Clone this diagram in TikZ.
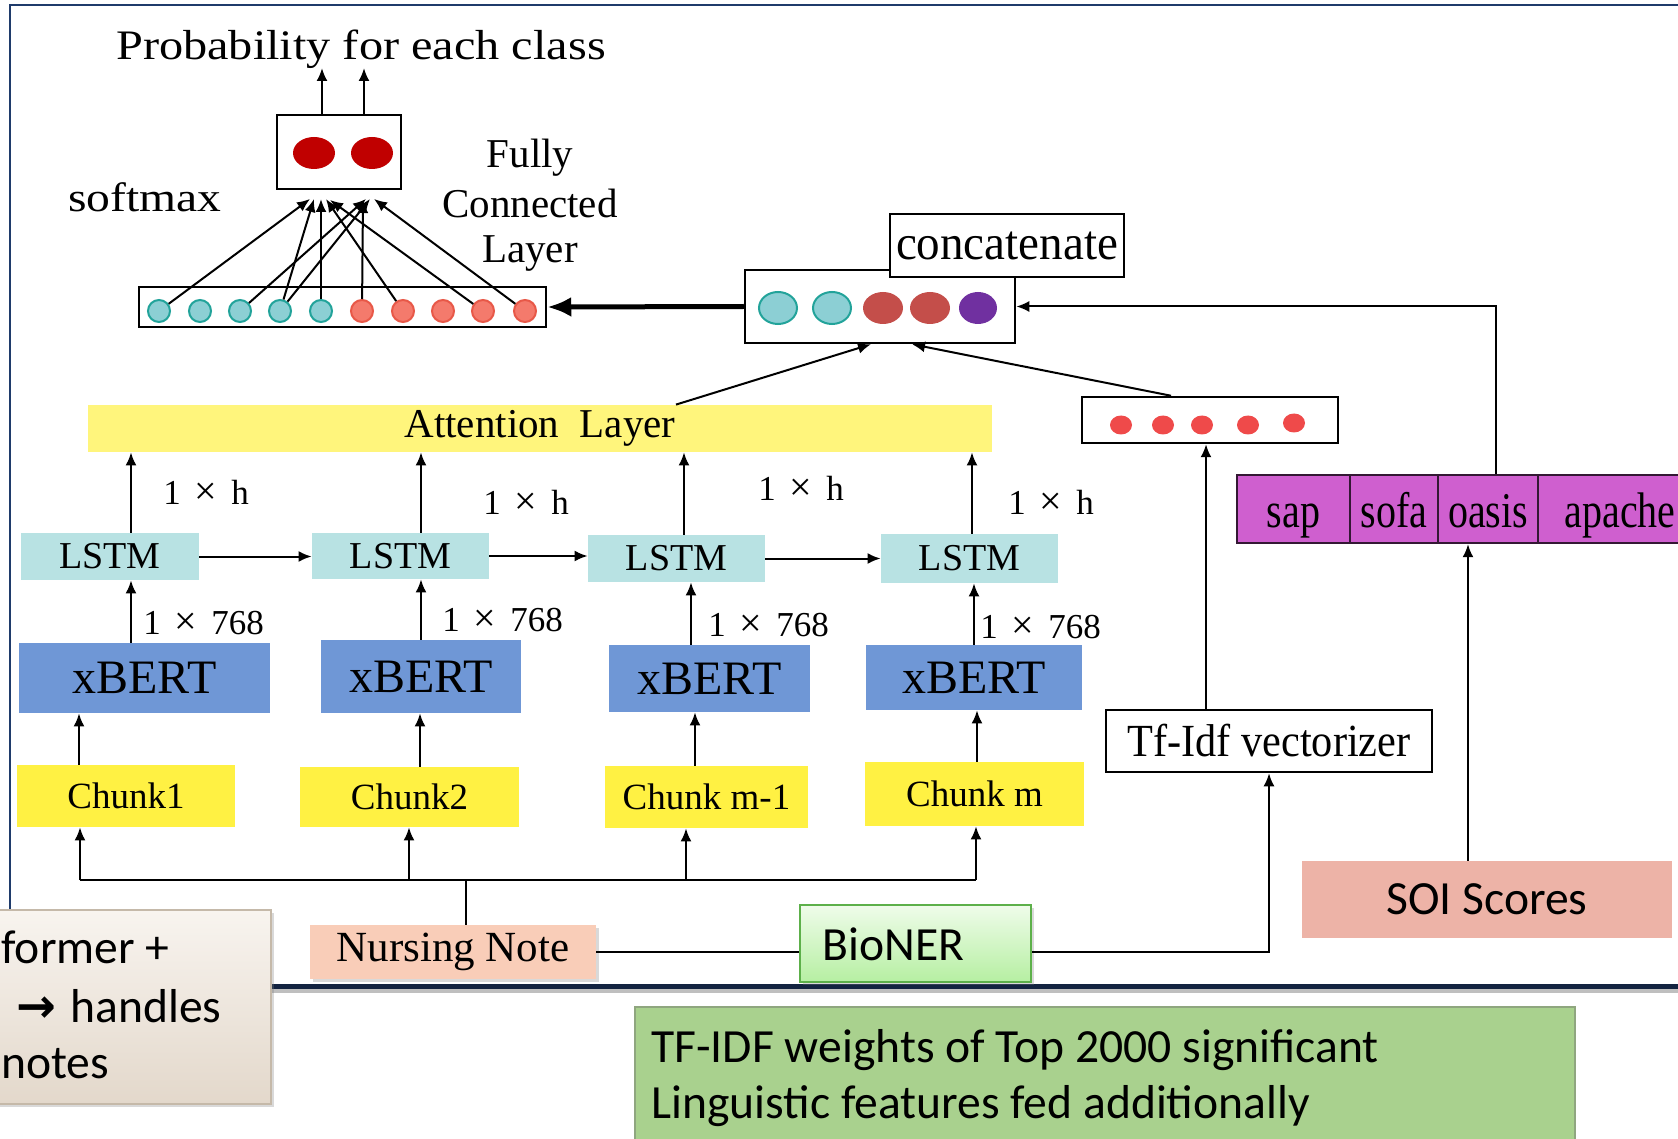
\documentclass[tikz,border=0pt]{standalone}
\usepackage{fontspec}
\usepackage{graphicx}
\setmainfont{Liberation Serif}
\newfontfamily\calfont{Carlito}
\newfontfamily\dvfont{DejaVu Sans}
\usetikzlibrary{arrows.meta,calc,shadows}

\newcommand\fsz[1]{\fontsize{#1pt}{#1pt}\selectfont}
\newcommand\hs[2]{\scalebox{#1}[1]{#2}}
\newcommand\dimby[2]{#1\hspace{.4em}{\fsz{20}×}\hspace{.4em}#2}

\definecolor{frameblue}{HTML}{1F3B6B}
\definecolor{tealfill}{HTML}{8CCFD4}
\definecolor{tealline}{HTML}{22A39A}
\definecolor{salfill}{HTML}{F47A6C}
\definecolor{salline}{HTML}{E85848}
\definecolor{catred}{HTML}{C44E4A}
\definecolor{catpurple}{HTML}{7030A0}
\definecolor{smred}{HTML}{C00000}
\definecolor{dotred}{HTML}{EF4A4A}
\definecolor{attyellow}{HTML}{FFF57C}
\definecolor{chunkyellow}{HTML}{FFF143}
\definecolor{bertblue}{HTML}{6F97D6}
\definecolor{lstmcyan}{HTML}{B8E2E3}
\definecolor{soimag}{HTML}{CF5FCF}
\definecolor{soipink}{HTML}{EDB3A7}
\definecolor{nnpeach}{HTML}{F9CDB8}
\definecolor{bioline}{HTML}{5DB04A}
\definecolor{biotop}{HTML}{EFFCEA}
\definecolor{biobot}{HTML}{B6EFA2}
\definecolor{noteg}{HTML}{A9D18E}
\definecolor{notegline}{HTML}{8FA67F}
\definecolor{tiptop}{HTML}{F8F4EF}
\definecolor{tipbot}{HTML}{E3D8CB}
\definecolor{tipline}{HTML}{C5B9A9}

\begin{document}
\begin{tikzpicture}[x=0.5pt,y=-0.5pt,
  wh/.style 2 args={minimum width=#1*0.5pt, minimum height=#2*0.5pt},
  wbox/.style={draw, line width=1.25pt, fill=white, inner sep=0pt},
  arr/.style={-{Latex[length=6.5pt,width=5.5pt]}, line width=1pt},
  bigarr/.style={-{Latex[length=12pt,width=10pt]}, line width=2.5pt},
  tealdot/.style={circle, draw=tealline, fill=tealfill, line width=1pt, minimum size=22*0.5pt, inner sep=0pt},
  saldot/.style={circle, draw=salline, fill=salfill, line width=1pt, minimum size=22*0.5pt, inner sep=0pt},
  chunk/.style={fill=chunkyellow, inner sep=0pt, font=\fsz{18.5}},
  bert/.style={fill=bertblue, inner sep=0pt, font=\fsz{24}},
  lstm/.style={fill=lstmcyan, inner sep=0pt, font=\fsz{19}},
  lab/.style={anchor=west, inner sep=0pt, font=\fsz{17.5}},
  soicell/.style={draw=black!75!soimag, fill=soimag, line width=1.2pt, inner sep=0pt,
    font=\fsz{25}, text height=19pt, text depth=0pt},
  caltext/.style={inner sep=0pt, font=\calfont\fsz{23.8}},
  shade/.style={drop shadow={shadow xshift=1.5pt, shadow yshift=-1.5pt, opacity=0.3}}
]
\useasboundingbox (0,0) rectangle (1678,1139);
\clip (0,0) rectangle (1678,1139);

% outer frame
\draw[frameblue, line width=1.1pt] (10,986) -- (10,5) -- (1700,5);
\draw[black!25, line width=2pt] (270,991) -- (1700,991);
\draw[frameblue!60!black, line width=2.5pt] (270,986) -- (1700,986);

% ---------- output layer ----------
\node[font=\fsz{21}, anchor=base, inner sep=0pt] (title) at (361,60) {\hs{1.15}{Probability for each class}};
\node[wbox, wh={124}{74}] (smx) at (339,152) {};
\fill[smred] (314,153) ellipse [x radius=21, y radius=16];
\fill[smred] (372,153) ellipse [x radius=21, y radius=16];
\coordinate (o1) at (322,68);
\coordinate (o2) at (364,68);
\draw[arr] (o1 |- smx.north) -- (o1);
\draw[arr] (o2 |- smx.north) -- (o2);

\node[font=\fsz{20.5}, anchor=base, inner sep=0pt] (smlab) at (145,212) {\hs{1.16}{softmax}};
\node[font=\fsz{20.5}, anchor=base, inner sep=0pt] (fcl1) at (530,168) {Fully};
\node[font=\fsz{20.5}, anchor=base, inner sep=0pt] (fcl2) at (530,218) {Connected};
\node[font=\fsz{20.5}, anchor=base, inner sep=0pt] (fcl3) at (530,263) {Layer};

% fully connected layer
\node[wbox, wh={407}{40}] (fc) at (342.5,307) {};
\foreach \i/\x in {1/159,2/200,3/240,4/280,5/321}
  \node[tealdot] (c\i) at (\x,311) {};
\foreach \i/\x in {6/362,7/403,8/443,9/483,10/525}
  \node[saldot] (c\i) at (\x,311) {};
\coordinate (pL) at (318,199);
\coordinate (pR) at (368,199);
\draw[arr] (c1) -- ($(pL)+(-8,0)$);
\draw[arr] (c3) -- ($(pR)+(-2,0)$);
\draw[arr] (c4) -- ($(pL)+(-4,0)$);
\draw[arr] (c4) -- ($(pR)+(2,0)$);
\draw[arr] (c5) -- ($(pL)+(3,0)$);
\draw[arr] (c6) -- ($(pR)+(-5,1)$);
\draw[arr] (c7) -- ($(pL)+(8,0)$);
\draw[arr] (c9) -- ($(pL)+(12,1)$);
\draw[arr] (c10) -- ($(pR)+(6,0)$);

% ---------- concatenation ----------
\node[wbox, wh={270}{73}] (cat) at (880,306.5) {};
\filldraw[fill=tealfill, draw=tealline, line width=1pt] (778,308) ellipse [x radius=19, y radius=16];
\filldraw[fill=tealfill, draw=tealline, line width=1pt] (832,308) ellipse [x radius=19, y radius=16];
\fill[catred] (883,308) ellipse [x radius=20, y radius=16];
\fill[catred] (930,308) ellipse [x radius=20, y radius=16];
\fill[catpurple] (978,308) ellipse [x radius=19, y radius=16];
\node[wbox, wh={234}{63}, font=\fsz{24.5}] (catl) at (1007,245.5) {\hs{0.96}{concatenate}};
\draw[bigarr] (cat.west) -- (fc.east);

% attention
\node[fill=attyellow, wh={904}{47}, inner sep=0pt, font=\fsz{20.5}] (att) at (540,428.5) {Attention\hspace{0.25em} Layer};
\draw[arr] ($(att.north)+(136,0)$) -- ($(cat.south)+(-9,0)$);

% tf-idf feature vector
\node[wbox, wh={256}{46}] (tfv) at (1210,420) {};
\foreach \x/\y in {1121/425,1163/425,1202/425,1248/425,1294/423}
  \fill[dotred] (\x,\y) ellipse [x radius=11, y radius=9.5];
\draw[arr] ($(tfv.north)+(-39,0)$) -- ($(cat.south)+(32,0)$);

\node[wbox, wh={326}{62}, font=\fsz{23}] (tfidf) at (1269,741) {\hs{0.92}{Tf-Idf vectorizer}};
\draw[arr] ($(tfidf.north)+(-63,0)$) -- ($(tfv.south)+(-4,0)$);

% SOI vector
\node[soicell, wh={113}{68}] (sap) at (1293.5,509) {\hs{0.8}{sap}};
\node[soicell, wh={88}{68}] (sofa) at (1394,509) {\hs{0.8}{sofa}};
\node[soicell, wh={100}{68}] (oasis) at (1488,509) {\hs{0.8}{oasis}};
\node[soicell, wh={164}{68}] (apache) at (1620,509) {\hs{0.8}{apache}};
\draw[arr] ($(oasis.north)+(8,0)$) |- (cat.east);

\node[fill=soipink, wh={370}{77}, caltext] (soi) at (1487,899.5) {SOI Scores};
\draw[arr] ($(soi.north)+(-19,0)$) -- ($(oasis.south)+(-20,0)$);

% ---------- input side ----------
\node[draw=bioline, line width=1.2pt, top color=biotop, bottom color=biobot, wh={231}{77}, inner sep=0pt, shade] (bio) at (915.5,943.5) {};
\node[caltext, anchor=west] (biotxt) at (822,944) {BioNER};

\node[fill=nnpeach, wh={286}{54}, inner sep=0pt, font=\fsz{21.5}, shade] (nn) at (453,952) {Nursing Note};
\draw[line width=1pt] (nn.east) -- (nn.east -| bio.west);
\draw[arr] (nn.east -| bio.east) -| (tfidf.south);

% chunks
\node[chunk, wh={218}{62}] (ch1) at (126,796) {Chunk1};
\node[chunk, wh={219}{60}] (ch2) at (409.5,797) {Chunk2};
\node[chunk, wh={203}{62}] (ch3) at (706.5,797) {Chunk m-1};
\node[chunk, wh={219}{64}] (ch4) at (974.5,794) {Chunk m};

% note split into chunks
\coordinate (bL) at (80,880);
\coordinate (b2) at (409,880);
\coordinate (b3) at (686,880);
\coordinate (bR) at (976,880);
\draw[line width=1pt] (bL) -- (bR);
\draw[line width=1pt] ($(nn.north)+(13,0)$) -- ($(nn.north)+(13,-45)$);
\draw[arr] (bL) -- (bL |- ch1.south);
\draw[arr] (b2) -- (b2 |- ch2.south);
\draw[arr] (b3) -- (b3 |- ch3.south);
\draw[arr] (bR) -- (bR |- ch4.south);

% encoders
\node[bert, wh={251}{70}] (xb1) at (144.5,678) {xBERT};
\node[bert, wh={200}{73}] (xb2) at (421,676.5) {xBERT};
\node[bert, wh={201}{67}] (xb3) at (709.5,678.5) {xBERT};
\node[bert, wh={216}{65}] (xb4) at (974,677.5) {xBERT};
\foreach \x/\a/\b in {79/ch1/xb1, 420/ch2/xb2, 695/ch3/xb3, 977/ch4/xb4}
  \draw[arr] (\x,0 |- \a.north) -- (\x,0 |- \b.south);

% recurrent layer
\node[lstm, wh={178}{47}] (ls1) at (110,556.5) {LSTM};
\node[lstm, wh={177}{46}] (ls2) at (400.5,556) {LSTM};
\node[lstm, wh={177}{47}] (ls3) at (676.5,558.5) {LSTM};
\node[lstm, wh={177}{49}] (ls4) at (969.5,558.5) {LSTM};
\foreach \x/\a/\b in {131/xb1/ls1, 421/xb2/ls2, 691/xb3/ls3, 974/xb4/ls4}
  \draw[arr] (\x,0 |- \a.north) -- (\x,0 |- \b.south);
\draw[arr] (ls1.east) -- (ls1.east -| ls2.west);
\draw[arr] (ls2.east) -- (ls2.east -| ls3.west);
\draw[arr] (ls3.east) -- (ls3.east -| ls4.west);
\foreach \x/\a in {131/ls1, 421/ls2, 684/ls3, 972/ls4}
  \draw[arr] (\x,0 |- \a.north) -- (\x,0 |- att.south);

% dimension labels
\node[lab] (h1) at (163,492) {\dimby{1}{h}};
\node[lab] (h2) at (483,502) {\dimby{1}{h}};
\node[lab] (h3) at (758,488) {\dimby{1}{h}};
\node[lab] (h4) at (1008,502) {\dimby{1}{h}};
\node[lab] (d1) at (143,623) {\dimby{1}{768}};
\node[lab] (d2) at (442,620) {\dimby{1}{768}};
\node[lab] (d3) at (708,625) {\dimby{1}{768}};
\node[lab] (d4) at (980,627) {\dimby{1}{768}};

% side notes
\node[draw=tipline, line width=0.8pt, top color=tiptop, bottom color=tipbot, wh={290}{194}, inner sep=0pt, anchor=north west, shade] (tip) at (-20,909) {};
\node[caltext, anchor=base west] (tip1) at (1,963) {former +};
\node[caltext, anchor=base west] (tip2) at (16,1022) {{\dvfont\bfseries →}\hspace{0.3em}handles};
\node[caltext, anchor=base west] (tip3) at (1,1078) {notes};

\node[fill=noteg, draw=notegline, line width=0.8pt, wh={940}{160}, inner sep=0pt, anchor=north west] (gn) at (634,1006) {};
\node[caltext, anchor=base west] (gn1) at (651,1062) {TF-IDF weights of Top 2000 significant};
\node[caltext, anchor=base west] (gn2) at (651,1118) {Linguistic features fed additionally};
\end{tikzpicture}
\end{document}
